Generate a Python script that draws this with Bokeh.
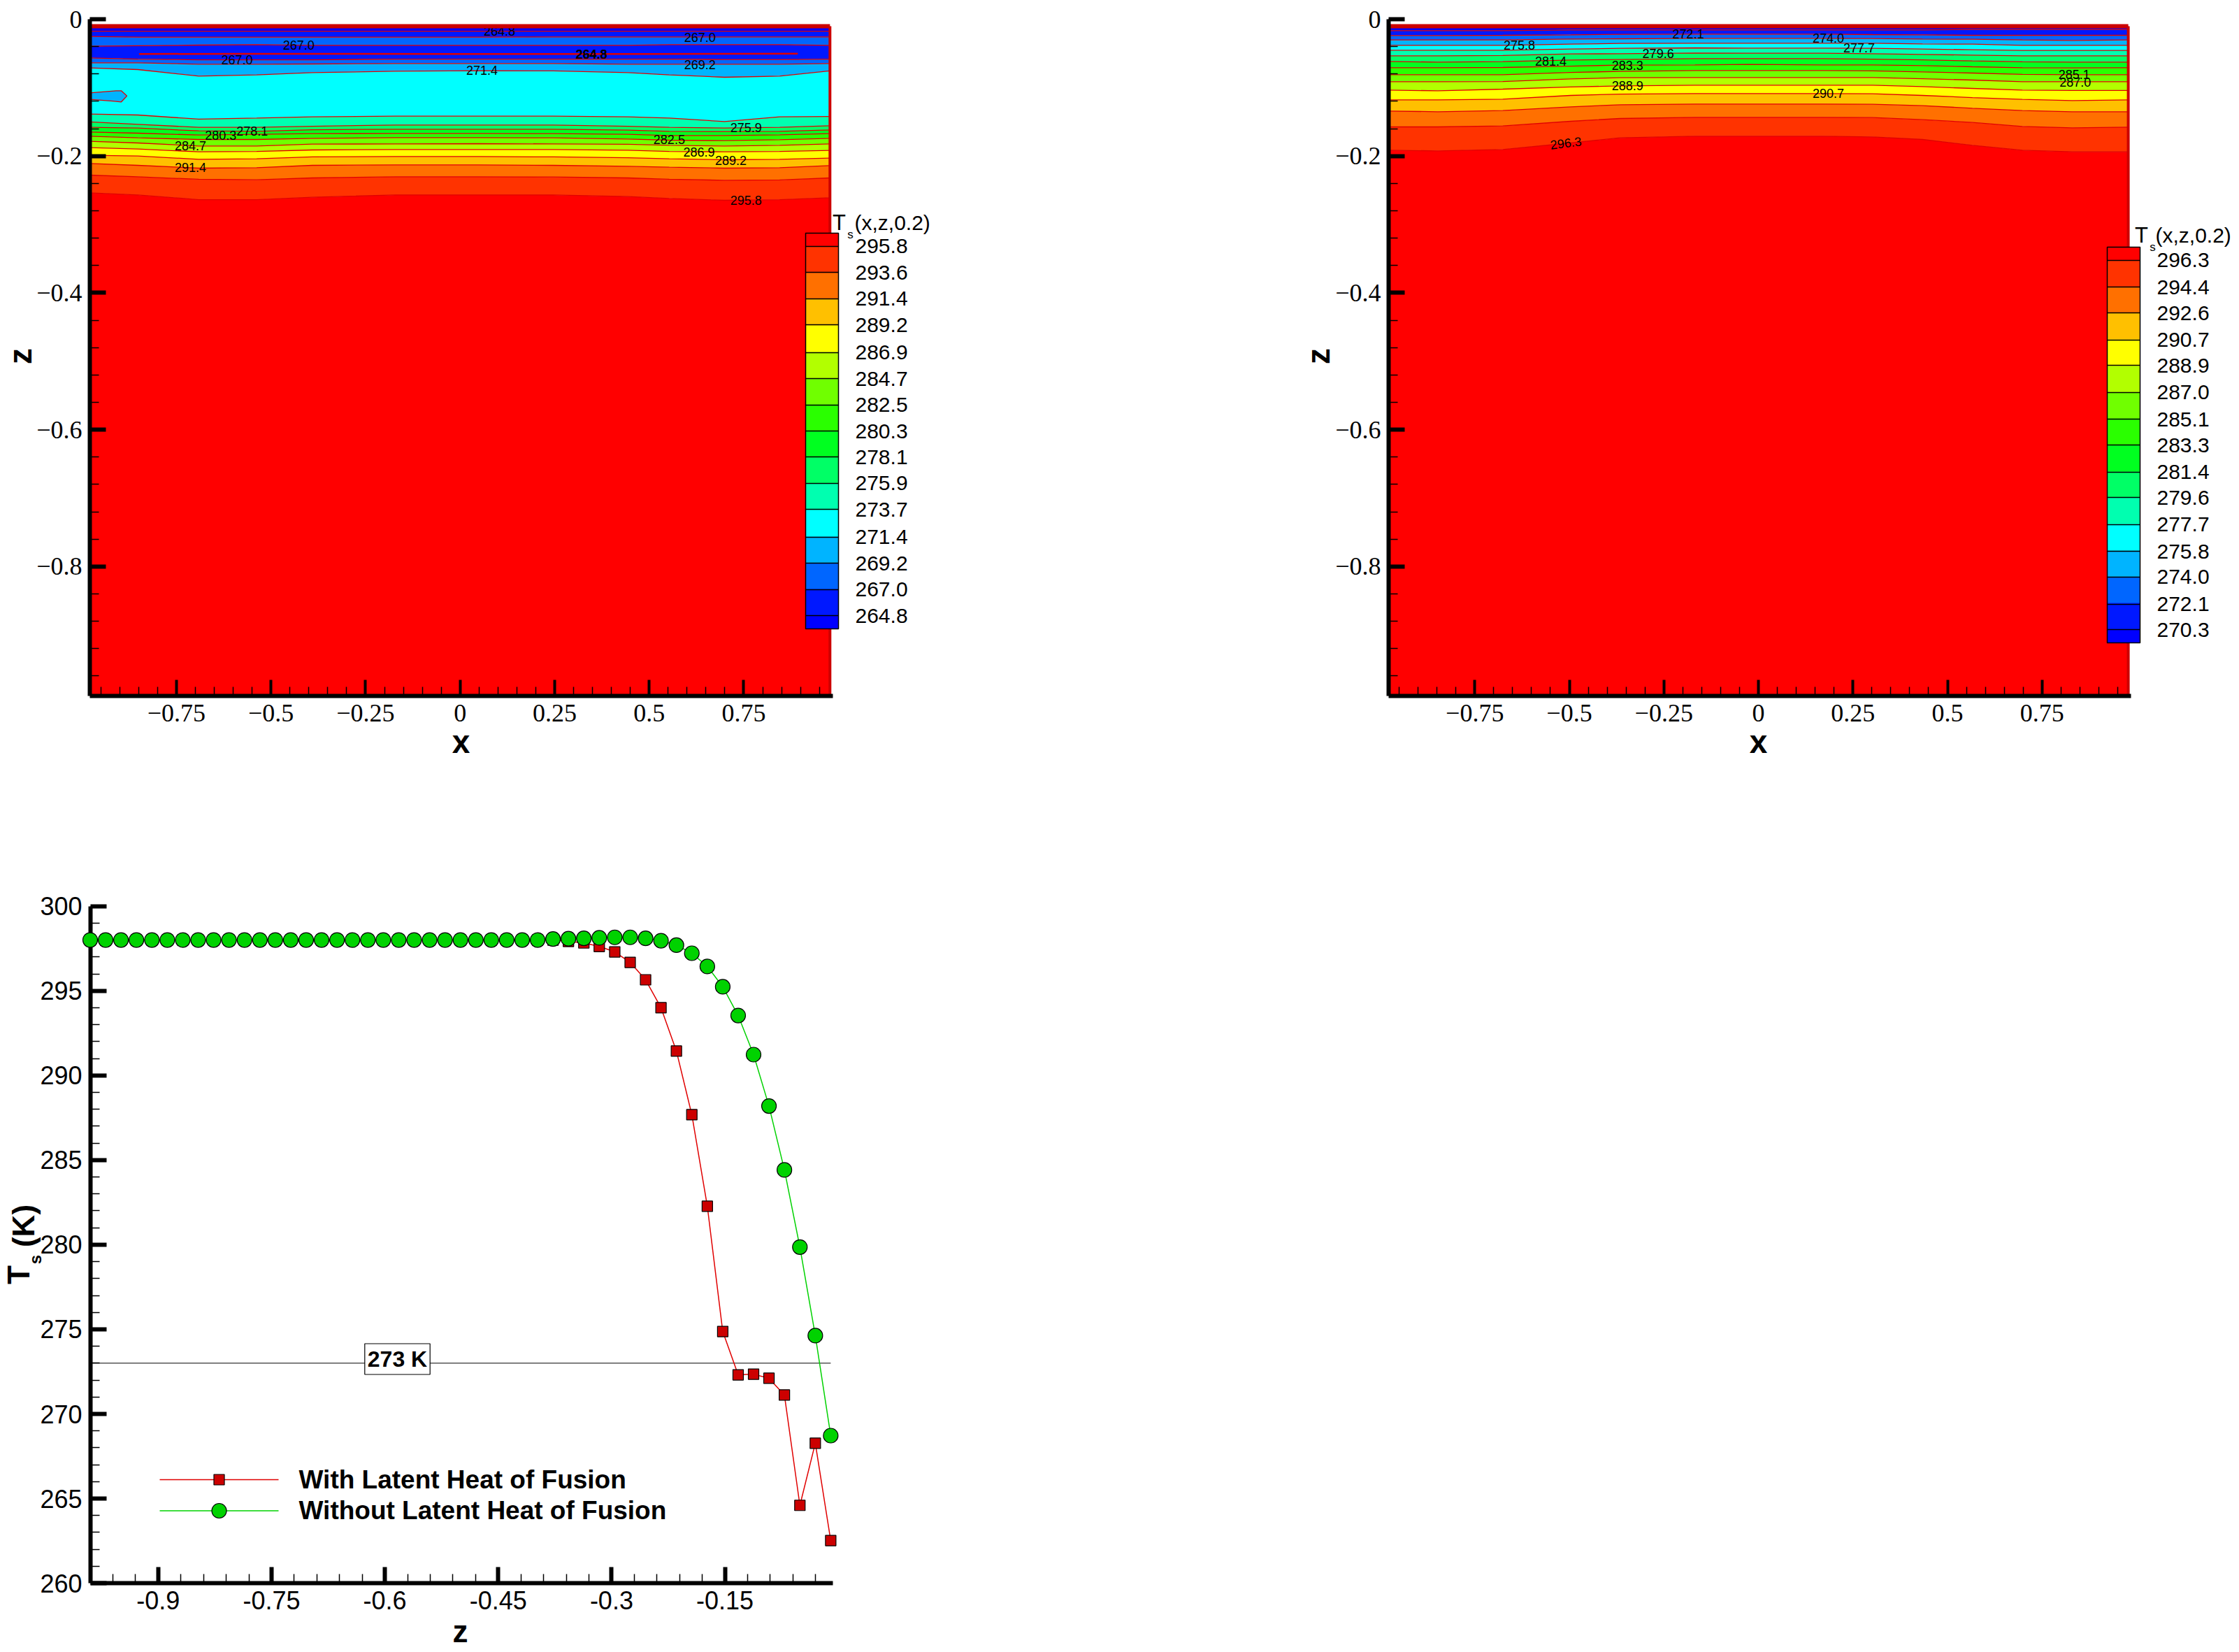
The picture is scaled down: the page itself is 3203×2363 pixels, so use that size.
from math import pi
from bokeh.plotting import figure
from bokeh.layouts import column, row
from bokeh.embed import file_html
from bokeh.resources import INLINE
from bokeh.models import (Range1d, FixedTicker, Label, ColorBar, LinearColorMapper,
                          NumeralTickFormatter)
from bokeh.core.properties import value

# ---------------- contour panel 1 (depth below surface, thousandths of z) ----------------
P1_X = [-0.979, -0.852, -0.691, -0.538, -0.391, -0.172, 0.047, 0.246, 0.444, 0.553, 0.699, 0.845, 0.978]
P1_TOP = 10.2
P1_DEPTHS = [
    [17.4, 17.4, 17.4, 17.4, 17.4, 17.4, 17.4, 17.4, 17.4, 17.4, 17.4, 17.4, 17.4],
    [25.2, 26.2, 26.2, 26.2, 26.2, 26.2, 26.2, 25.9, 25.9, 25.9, 25.9, 25.9, 25.9],
    [39.5, 38.8, 37.8, 37.1, 38.2, 38.2, 38.2, 38.2, 38.2, 37.1, 37.1, 37.1, 38.2],
    [56.5, 58.3, 59.3, 59.3, 59.3, 58.3, 58.3, 58.3, 58.3, 58.3, 58.9, 58.9, 58.3],
    [63.7, 63.7, 65.7, 65.7, 65.4, 64.7, 64.7, 64.7, 65.7, 65.7, 65.7, 65.7, 64.7],
    [71.2, 73.6, 83.1, 81.4, 78.0, 76.0, 75.3, 75.6, 78.0, 81.4, 84.8, 83.1, 75.6],
    [138.6, 140.0, 146.1, 144.4, 142.7, 141.7, 141.7, 141.7, 142.7, 144.4, 149.6, 142.7, 142.1],
    [150.2, 153.6, 158.1, 158.1, 156.4, 154.7, 154.7, 154.7, 156.4, 158.1, 159.1, 158.1, 155.7],
    [158.1, 159.1, 163.2, 163.9, 161.5, 160.8, 160.8, 160.8, 162.2, 163.9, 164.2, 163.9, 161.8],
    [164.9, 166.6, 169.3, 168.3, 167.3, 166.9, 166.9, 167.3, 168.3, 170.0, 170.0, 169.0, 167.3],
    [171.0, 173.4, 175.8, 175.8, 174.1, 173.1, 173.1, 173.4, 175.1, 176.8, 177.5, 176.1, 174.1],
    [178.5, 180.9, 185.3, 185.3, 182.6, 182.3, 181.9, 182.3, 182.9, 184.3, 185.3, 184.3, 182.3],
    [187.7, 189.7, 193.8, 193.2, 191.1, 190.4, 190.4, 190.4, 191.5, 193.2, 193.8, 193.2, 191.8],
    [198.9, 200.0, 204.7, 204.0, 201.3, 200.6, 200.6, 201.3, 202.4, 204.0, 205.4, 204.7, 203.0],
    [210.9, 213.6, 217.7, 217.0, 213.6, 212.9, 212.9, 213.6, 215.0, 216.3, 217.7, 217.0, 213.9],
    [227.9, 230.3, 234.0, 234.7, 232.0, 230.3, 230.3, 230.6, 232.0, 234.0, 235.4, 235.0, 232.0],
    [253.8, 256.9, 263.7, 263.7, 260.3, 256.9, 256.9, 256.9, 259.2, 262.0, 264.7, 263.7, 260.9],
]
P1_COLORS = ["#0000ff", "#0018ff", "#0066ff", "#0018ff", "#0066ff", "#00b4ff", "#00ffff", "#00ffb0", "#00ff66",
             "#00ff20", "#2aff00", "#70ff00", "#b2ff00", "#ffff00", "#ffc000", "#ff7000", "#ff3300", "#ff0000"]
P1_POCKET_X = [-0.979, -0.910, -0.896, -0.881, -0.896, -0.918, -0.979]
P1_POCKET_D = [107.6, 104.6, 104.6, 112.1, 120.9, 119.6, 117.2]
P1_LENS_X = [-0.849, -0.60, 0.0, 0.5, 0.893]
P1_LENS_D = [50.8, 50.6, 50.8, 50.8, 50.4]
P1_LABELS = ["267.0", "267.0", "271.4", "264.8", "278.1", "280.3", "284.7", "291.4",
             "267.0", "264.8", "269.2", "275.9", "282.5", "286.9", "289.2", "295.8"]
P1_LABEL_X = [-0.427, -0.590, 0.058, 0.104, -0.550, -0.633, -0.713, -0.713,
              0.634, 0.347, 0.634, 0.756, 0.553, 0.632, 0.716, 0.756]
P1_LABEL_D = [38.2, 58.9, 74.6, 17.7, 163.2, 170.0, 185.3, 217.0,
              26.2, 51.4, 66.1, 158.4, 176.1, 194.5, 206.1, 264.7]
P1_LEVELS = [264.8, 267.0, 269.2, 271.4, 273.7, 275.9, 278.1, 280.3, 282.5, 284.7, 286.9, 289.2, 291.4, 293.6, 295.8]

# ---------------- contour panel 2 ----------------
P2_X = [-0.978, -0.848, -0.676, -0.497, -0.366, -0.168, -0.028, 0.170, 0.302, 0.434, 0.566, 0.698, 0.830, 0.978]
P2_TOP = 10.2
P2_DEPTHS = [
    [16.7, 16.7, 16.7, 15.7, 15.7, 15.7, 15.7, 15.7, 15.7, 15.7, 15.0, 15.0, 15.0, 15.0],
    [23.8, 23.8, 23.5, 22.8, 22.1, 21.8, 21.8, 21.8, 22.5, 22.8, 23.5, 23.5, 23.5, 23.5],
    [30.3, 30.3, 30.3, 29.0, 28.6, 27.9, 27.9, 27.9, 28.3, 29.0, 29.3, 30.3, 31.0, 30.3],
    [38.2, 38.2, 38.2, 36.5, 35.4, 35.1, 35.1, 35.1, 35.1, 36.1, 36.5, 38.2, 38.2, 38.2],
    [45.3, 45.3, 45.3, 43.6, 42.6, 41.9, 42.2, 42.2, 42.6, 43.6, 44.6, 45.6, 45.6, 45.6],
    [53.5, 53.5, 53.1, 50.8, 50.4, 49.4, 49.7, 49.7, 50.4, 51.4, 52.5, 53.5, 53.5, 53.5],
    [61.7, 62.7, 62.0, 59.6, 58.9, 57.6, 57.6, 57.6, 58.3, 59.3, 61.0, 62.3, 62.7, 62.7],
    [70.9, 70.9, 70.5, 68.5, 67.1, 66.8, 66.1, 66.8, 66.8, 67.8, 69.5, 70.9, 71.2, 70.9],
    [81.1, 81.1, 81.1, 77.7, 76.3, 74.9, 74.9, 74.9, 75.6, 77.0, 78.7, 80.7, 81.1, 81.1],
    [91.3, 91.3, 91.0, 87.2, 85.5, 85.2, 85.2, 85.2, 85.2, 86.9, 88.9, 91.3, 91.3, 91.3],
    [103.6, 104.6, 102.2, 99.1, 97.4, 96.4, 96.4, 96.4, 96.4, 98.5, 101.2, 103.6, 104.2, 104.2],
    [117.9, 117.9, 116.8, 111.4, 109.4, 108.7, 108.7, 108.7, 109.0, 111.4, 114.5, 117.2, 118.9, 117.9],
    [134.2, 135.2, 133.5, 128.1, 125.0, 124.0, 124.0, 124.0, 124.3, 126.4, 130.1, 133.5, 135.2, 135.2],
    [157.4, 157.4, 156.0, 149.2, 145.1, 143.4, 143.4, 143.4, 143.8, 146.8, 150.9, 156.7, 158.7, 157.7],
    [191.5, 192.5, 190.4, 180.9, 173.4, 171.0, 171.0, 171.0, 172.0, 175.8, 184.3, 191.5, 193.8, 193.8],
]
P2_COLORS = ["#0000ff", "#0018ff", "#0066ff", "#00b4ff", "#00ffff", "#00ffb0", "#00ff66", "#00ff20",
             "#2aff00", "#70ff00", "#b2ff00", "#ffff00", "#ffc000", "#ff7000", "#ff3300", "#ff0000"]
P2_LABELS = ["275.8", "272.1", "279.6", "281.4", "283.3", "288.9", "296.3", "274.0", "277.7", "290.7", "285.1", "287.0"]
P2_LABEL_X = [-0.632, -0.186, -0.265, -0.549, -0.346, -0.346, -0.509, 0.185, 0.266, 0.185, 0.835, 0.838]
P2_LABEL_D = [37.8, 21.8, 50.1, 61.0, 67.1, 97.4, 180.9, 27.6, 42.2, 108.7, 80.7, 91.6]
P2_LABEL_ANGLE = [0, 0, 0, 0, 0, 0, 0.12, 0, 0, 0, 0, 0]
P2_LEVELS = [270.3, 272.1, 274.0, 275.8, 277.7, 279.6, 281.4, 283.3, 285.1, 287.0, 288.9, 290.7, 292.6, 294.4, 296.3]

# ---------------- line panel ----------------
Z_POINTS = [-0.9900, -0.9696, -0.9492, -0.9288, -0.9083, -0.8879, -0.8675, -0.8471, -0.8267, -0.8063,
            -0.7858, -0.7654, -0.7450, -0.7246, -0.7042, -0.6838, -0.6633, -0.6429, -0.6225, -0.6021,
            -0.5817, -0.5613, -0.5408, -0.5204, -0.5000, -0.4796, -0.4592, -0.4388, -0.4183, -0.3979,
            -0.3775, -0.3571, -0.3367, -0.3163, -0.2958, -0.2754, -0.2550, -0.2346, -0.2142, -0.1938,
            -0.1733, -0.1529, -0.1325, -0.1121, -0.0917, -0.0713, -0.0508, -0.0304, -0.0100]
T_WITH = [298.0, 298.0, 298.0, 298.0, 298.0, 298.0, 298.0, 298.0, 298.0, 298.0,
          298.0, 298.0, 298.0, 298.0, 298.0, 298.0, 298.0, 298.0, 298.0, 298.0,
          298.0, 298.0, 298.0, 298.0, 298.0, 298.0, 298.0, 298.0, 298.0, 298.0,
          298.0, 297.92, 297.83, 297.62, 297.30, 296.68, 295.65, 294.00, 291.44, 287.68,
          282.27, 274.87, 272.31, 272.35, 272.11, 271.12, 264.60, 268.27, 262.52]
T_WITHOUT = [298.0, 298.0, 298.0, 298.0, 298.0, 298.0, 298.0, 298.0, 298.0, 298.0,
             298.0, 298.0, 298.0, 298.0, 298.0, 298.0, 298.0, 298.0, 298.0, 298.0,
             298.0, 298.0, 298.0, 298.0, 298.0, 298.0, 298.0, 298.0, 298.0, 298.0,
             298.06, 298.08, 298.10, 298.13, 298.16, 298.16, 298.10, 297.96, 297.70, 297.22,
             296.44, 295.24, 293.54, 291.23, 288.19, 284.42, 279.86, 274.63, 268.72]
T_FREEZE = 273
SERIES_NAMES = ["With Latent Heat of Fusion", "Without Latent Heat of Fusion"]
Y_TICKS = [260, 265, 270, 275, 280, 285, 290, 295, 300]
X_TICKS = [-0.9, -0.75, -0.6, -0.45, -0.3, -0.15]
X_TICK_TEXT = {-0.9: "-0.9", -0.75: "-0.75", -0.6: "-0.6", -0.45: "-0.45", -0.3: "-0.3", -0.15: "-0.15"}
BAR_COLORS = ["#0000ff", "#0018ff", "#0066ff", "#00b4ff", "#00ffff", "#00ffb0", "#00ff66", "#00ff20",
              "#2aff00", "#70ff00", "#b2ff00", "#ffff00", "#ffc000", "#ff7000", "#ff3300", "#ff0000"]

RED, GREEN = "#cc0000", "#00d200"
LINE_RED = "#e00000"
BLACK = "black"
SANS, SERIF = "Liberation Sans", "Liberation Serif"


def make_panel(page_left, page_top, width, height, xr, yr):
    # the frame fills the whole figure; axes are pinned inside it with fixed_location
    p = figure(width=width, height=height, x_range=Range1d(*xr), y_range=Range1d(*yr),
               toolbar_location=None, output_backend="svg", min_border=0)
    p.grid.visible = False
    p.outline_line_color = None
    p.background_fill_color = "white"
    p.border_fill_color = "white"
    for ax in (p.xaxis[0], p.yaxis[0]):
        ax.axis_line_color = BLACK
        ax.axis_line_width = 6
        ax.major_tick_in, ax.major_tick_out = 23, 0
        ax.minor_tick_in, ax.minor_tick_out = 13, 0
        ax.major_tick_line_color = BLACK
        ax.minor_tick_line_color = BLACK
        ax.minor_tick_line_width = 1.5
    p._px = (page_left, page_top, width, height, xr, yr)
    return p


def to_data(p, px, py):
    fl, ft, fw, fh, xr, yr = p._px
    return xr[0] + (px - fl) * (xr[1] - xr[0]) / fw, yr[1] - (py - ft) * (yr[1] - yr[0]) / fh


def put(p, px, py, text, size, font=SANS, bold=False, angle=0, align="center", **kw):
    x, y = to_data(p, px, py)
    p.add_layout(Label(x=x, y=y, text=text, text_font=font, text_font_size=f"{size}px",
                       text_font_style="bold" if bold else "normal", text_color=BLACK,
                       text_align=align, text_baseline="middle", angle=angle, angle_units="rad", **kw))


def contour_panel(p, xs, top, depths, colors, lab, lab_x, lab_d, lab_a, levels, bar_xy, ax_left, ax_right):
    bounds = [top] + depths + [989.0]
    for i, c in enumerate(colors):
        upper = [-bounds[i] / 1000] * len(xs) if i == 0 else [-d / 1000 for d in bounds[i]]
        lower = [-0.989] * len(xs) if i == len(colors) - 1 else [-d / 1000 for d in bounds[i + 1]]
        p.varea(x=xs, y1=upper, y2=lower, fill_color=c)
    for d in depths:
        p.line(xs, [-v / 1000 for v in d], line_color=LINE_RED, line_width=1.3)
    p.text(x=lab_x, y=[-d / 1000 for d in lab_d], text=lab, angle=lab_a, text_font=value(SANS),
           text_font_size="18px", text_align="center", text_baseline="middle", text_color=BLACK)
    # domain boundary
    p.line([xs[0], xs[-1]], [-top / 1000, -top / 1000], line_color=RED, line_width=6)
    p.line([xs[-1], xs[-1]], [-top / 1000, -0.989], line_color=RED, line_width=4)
    # axes
    maj_x = [-0.75, -0.5, -0.25, 0, 0.25, 0.5, 0.75]
    maj_y = [0, -0.2, -0.4, -0.6, -0.8]
    min_x = [round(-0.95 + 0.05 * i, 2) for i in range(39)]
    min_y = [round(-0.04 * i, 2) for i in range(25)]
    xa, ya = p.xaxis[0], p.yaxis[0]
    xa.bounds = (ax_left, ax_right)
    ya.bounds = (-0.989, 0.0)
    xa.fixed_location = -0.989
    ya.fixed_location = ax_left
    xa.ticker = FixedTicker(ticks=maj_x, minor_ticks=min_x)
    ya.ticker = FixedTicker(ticks=maj_y, minor_ticks=min_y)
    xa.major_label_overrides = {-0.75: "\u22120.75", -0.5: "\u22120.5", -0.25: "\u22120.25", 0: "0",
                                0.25: "0.25", 0.5: "0.5", 0.75: "0.75"}
    ya.major_label_overrides = {0: "0", -0.2: "\u22120.2", -0.4: "\u22120.4", -0.6: "\u22120.6", -0.8: "\u22120.8"}
    xa.major_tick_line_width = 4
    ya.major_tick_line_width = 6
    for ax, so in ((xa, 13), (ya, 11)):
        ax.major_label_text_font = SERIF
        ax.major_label_text_font_size = "36px"
        ax.major_label_text_color = BLACK
        ax.major_label_standoff = so
    # colour bar
    n = len(levels)
    step = (levels[-1] - levels[0]) / (n - 1)
    pal = []
    for i, c in enumerate(BAR_COLORS):
        pal += [c] if i in (0, len(BAR_COLORS) - 1) else [c, c]
    mapper = LinearColorMapper(palette=pal, low=levels[0] - step / 2, high=levels[-1] + step / 2)
    cb = ColorBar(color_mapper=mapper, location=bar_xy, width=47, height=566, padding=0, margin=0,
                  ticker=FixedTicker(ticks=levels), formatter=NumeralTickFormatter(format="0.0"),
                  major_tick_in=47, major_tick_out=0, major_tick_line_color=BLACK, major_tick_line_width=1.5,
                  minor_tick_line_color=None, bar_line_color=BLACK, bar_line_width=1.5,
                  border_line_color=None, background_fill_alpha=0, label_standoff=24,
                  major_label_text_font=SANS, major_label_text_font_size="30px", major_label_text_color=BLACK)
    p.add_layout(cb, "center")


Z1 = lambda py: -(py - 27) / 978.5
X1 = lambda px: (px - 657.7) / 541
X2 = lambda px: (px - 2515) / 541
X3 = lambda px: (px - 1198.7) / 1081
T3 = lambda py: 300 - (py - 1295.7) / 24.21
SPLIT = 1700

# ----- panel 1 -----
p1 = make_panel(0, 0, SPLIT, 1200, (X1(0), X1(SPLIT)), (Z1(1200), Z1(0)))
contour_panel(p1, P1_X, P1_TOP, P1_DEPTHS, P1_COLORS, P1_LABELS, P1_LABEL_X, P1_LABEL_D, [0] * len(P1_LABELS),
              P1_LEVELS, (1152, 1200 - 899), X1(128), X1(1191))
p1.line(P1_LENS_X, [-d / 1000 for d in P1_LENS_D], line_color=LINE_RED, line_width=2.5)
p1.patch(P1_POCKET_X, [-d / 1000 for d in P1_POCKET_D], fill_color="#00b4ff", line_color=LINE_RED, line_width=1.3)
put(p1, 845.5, 77, P1_LABELS[9], 18, bold=True)
put(p1, 659, 1060, "x", 46, bold=True)
put(p1, 28, 509, "z", 46, bold=True, angle=pi / 2)
put(p1, 1200, 318, "T", 31)
put(p1, 1216, 335, "s", 17)
put(p1, 1222, 318, "(x,z,0.2)", 30, align="left")

# ----- panel 2 -----
p2 = make_panel(SPLIT, 0, 3200 - SPLIT, 1200, (X2(SPLIT), X2(3200)), (Z1(1200), Z1(0)))
contour_panel(p2, P2_X, P2_TOP, P2_DEPTHS, P2_COLORS, P2_LABELS, P2_LABEL_X, P2_LABEL_D, P2_LABEL_ANGLE,
              P2_LEVELS, (3014 - SPLIT, 1200 - 919), X2(1986), X2(3048))
put(p2, 2515, 1060, "x", 46, bold=True)
put(p2, 1885, 509, "z", 46, bold=True, angle=pi / 2)
put(p2, 3063, 336, "T", 31)
put(p2, 3079, 353, "s", 17)
put(p2, 3083, 336, "(x,z,0.2)", 30, align="left")

# ----- panel 3 -----
p3 = make_panel(0, 1200, SPLIT, 1160, (X3(0), X3(SPLIT)), (T3(2360), T3(1200)))
ax_left, ax_right = X3(129), X3(1191)
xa3, ya3 = p3.xaxis[0], p3.yaxis[0]
xa3.bounds = (ax_left, ax_right)
ya3.bounds = (260, 300)
xa3.fixed_location = 260
ya3.fixed_location = ax_left
xa3.level = "underlay"
ya3.level = "underlay"
xa3.ticker = FixedTicker(ticks=X_TICKS, minor_ticks=[round(-0.03 * i, 2) for i in range(1, 33)])
ya3.ticker = FixedTicker(ticks=Y_TICKS, minor_ticks=list(range(260, 301)))
xa3.major_label_overrides = X_TICK_TEXT
xa3.major_tick_line_width = 6
ya3.major_tick_line_width = 6
for ax, so in ((xa3, 11), (ya3, 12)):
    ax.major_label_text_font = SANS
    ax.major_label_text_font_size = "36px"
    ax.major_label_text_color = BLACK
    ax.major_label_standoff = so

p3.line([Z_POINTS[0], Z_POINTS[-1]], [T_FREEZE, T_FREEZE], line_color=BLACK, line_width=1)
p3.line(Z_POINTS, T_WITH, line_color=LINE_RED, line_width=1.5)
p3.scatter(Z_POINTS, T_WITH, marker="square", size=15, fill_color=RED, line_color=BLACK, line_width=1.2)
p3.line(Z_POINTS, T_WITHOUT, line_color=GREEN, line_width=1.5)
p3.scatter(Z_POINTS, T_WITHOUT, marker="circle", size=21, fill_color=GREEN, line_color=BLACK, line_width=1.2)

# legend key
for py, col, mk, sz, name, ty in ((2116, LINE_RED, "square", 15, SERIES_NAMES[0], 2116),
                                  (2160.5, GREEN, "circle", 21, SERIES_NAMES[1], 2160)):
    (x0, y0), (x1, _), (xm, _) = to_data(p3, 228, py), to_data(p3, 398, py), to_data(p3, 313, py)
    p3.line([x0, x1], [y0, y0], line_color=col, line_width=1.5)
    p3.scatter([xm], [y0], marker=mk, size=sz, fill_color=RED if mk == "square" else GREEN,
               line_color=BLACK, line_width=1.2)
    put(p3, 427, ty, name, 37, bold=True, align="left")

put(p3, 568, 1943.5, "273 K", 32, bold=True, border_line_color=BLACK, border_line_width=1.2,
    background_fill_color="white", padding=4)
put(p3, 658, 2333, "z", 44, bold=True)
put(p3, 26, 1823, "T", 44, bold=True, angle=pi / 2)
put(p3, 50, 1801, "s", 24, bold=True, angle=pi / 2)
put(p3, 33, 1753, "(K)", 44, bold=True, angle=pi / 2)

layout = column(row(p1, p2, spacing=0), row(p3, spacing=0), spacing=0)
open("out.html", "w").write(file_html(layout, INLINE))
